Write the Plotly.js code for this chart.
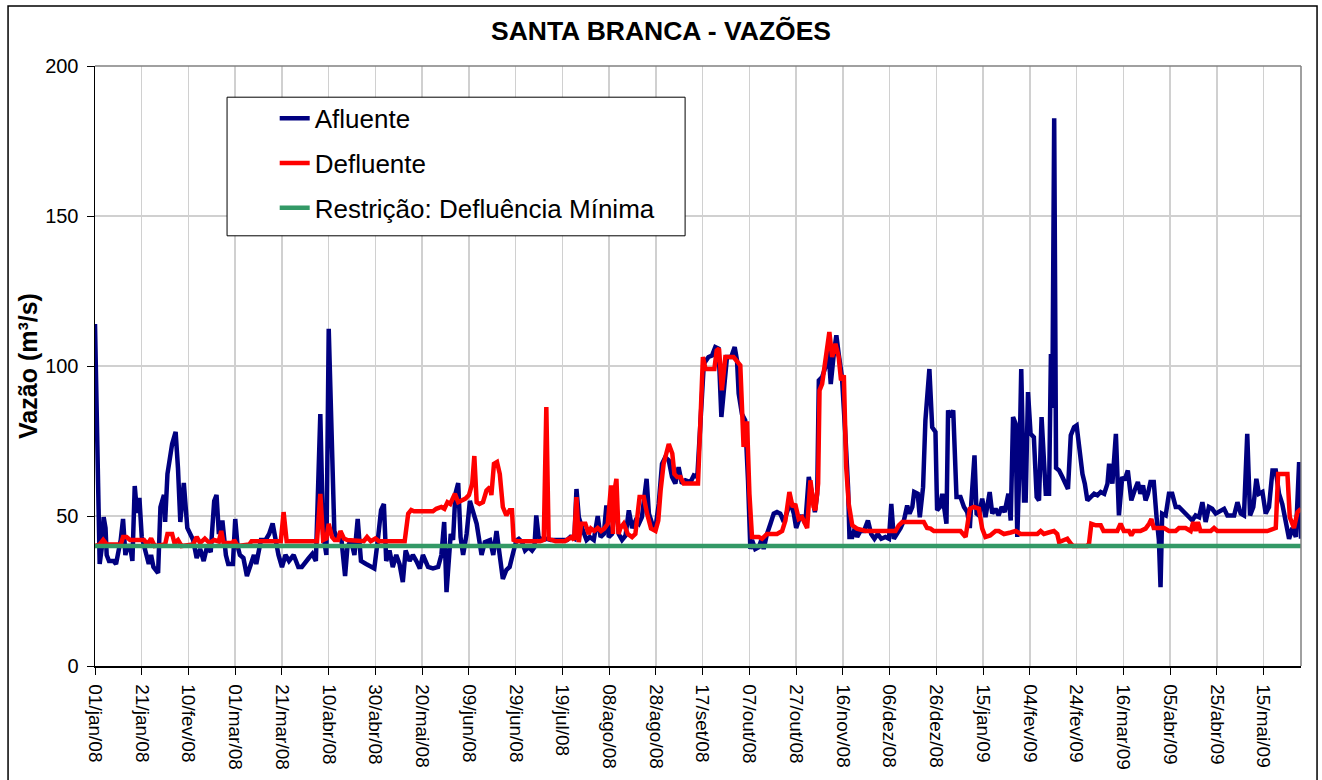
<!DOCTYPE html>
<html>
<head>
<meta charset="utf-8">
<script src="https://cdn.plot.ly/plotly-3.0.1.min.js"></script>
<style>html,body{margin:0;padding:0;background:#fff;}#chart{width:1322px;height:780px;}</style>
</head>
<body>
<div id="chart"></div>
<script>
// Day index (0 = 01/jan/08) and flow (m3/s)
const afluente = [
[0,114],[2,34],[3,40],[3.7,49.6],[4.5,46],[5,37],[6,35],[8,35],[9,34],[11,42],[12,49],[13,37],[14,40],[15,40],[16,35],[17,60],[18,51],[19,56],[20,43],[21.5,38.5],[23,34],[24,37],[25,33],[27,31],[28,53],[29.5,57],[30,48],[31,64],[33,74],[34.5,78],[35.5,66],[36.5,48],[38,61],[39.5,46],[41,44],[42,42],[43.5,36],[45,39],[46.5,35],[48,40],[49.5,38],[51,55],[52,57],[53,44],[54.5,48.5],[56,37],[57,34],[59,34],[60,49],[61,40],[62,37],[63.5,36],[65,30],[66.5,33],[68,37],[69,34],[71,42],[73,42],[74.5,44],[76,47.5],[77,43],[78.5,37],[80,33],[81.5,37],[83,35],[85,37],[87,33],
[88.5,33],[91.5,36],[93,37.4],[94.5,35],[96.4,84],[97.6,44],[99,37],[100,112.4],[101.4,68.5],[102.4,45],[103.8,42],[105.2,44],[107,30],[108,39.6],[109.5,42],[111,37],[112.4,49],[113.8,35],[116,34],[118,33],[119.5,32.5],[121,42],[122.4,52],[123.6,54],[124.6,35],[126,38.5],[127.4,33],[128.9,37],[130.3,34],[131.7,28],[132.9,38.5],[134.6,35],[136,37],[137.5,35],[139,32.5],[140.3,37],[142.5,33],[144.6,32.5],[146.8,33],[148.2,37],[149.4,48],[150.4,24.6],[151.5,35],[152.2,44],[153.2,42],[154.2,57.4],[155.4,61],[156.4,43],[157.5,37],[159,44],[160.4,55],[161.8,51.3],[163.3,47.4],[165.4,37],[166.8,41.3],[169,42],[170.4,37],[171.8,45],[173.3,36],[174.5,29],[176,32],
[177.4,33],[178.8,37.4],[180.3,41.9],[181.3,42.4],[182.7,41.3],[184,38.5],[185.5,39.6],[187,38.5],[188,39.6],[188.8,50.2],[189.8,43],[191.2,42],[193.4,42.4],[195,42],[202,42],[203.4,43],[205.1,42.4],[206,59],[207,49.6],[208.4,46],[210.3,42],[211.7,43],[213.4,42],[215.1,50],[216.3,43],[217.7,44],[218.8,53.5],[219.8,43],[221.2,44],[222.7,57.4],[224.1,44],[225.5,42],[227,43.5],[228.4,51.9],[229.8,46],[231.3,48.5],[232.7,47.4],[234,49.6],[236,62.4],[237,50.8],[238.4,47.4],[239.8,46],[241.2,54],[242.6,67.4],[244,69.6],[245.5,68.5],[246.9,63],[248.3,60.8],[249.7,66.3],[251.1,60.8],[252.6,61.9],[254.8,61.3],[256.2,63.5],[257.7,63],[259.1,81.9],[260.5,100.8],[262.5,103],
[264,103.5],[265.4,106.3],[266.8,105.8],[268,83],[269,90.8],[270.4,103],[272.2,103],[273.7,106.3],[274.7,101.8],[275.4,90.8],[276.8,84],[278.2,81.9],[279.4,61.9],[280.4,39],[281.1,42],[282.5,39],[284,39.6],[285.1,42],[286.1,39],[287.5,44],[289,47.4],[290.4,50.8],[291.8,51.3],[293.2,50.8],[294.7,48],[296.1,50.8],[297.5,54.6],[299,50.8],[300,46],[301.1,48.5],[302.5,50.2],[303.9,47.4],[305.4,63],[306.8,57.4],[308,51.3],[309,57.4],[309.7,95.2],[311.1,96.3],[312.5,99.6],[313.7,106.3],[314.8,94],[316.1,104],[317.2,110.2],[318.2,104],[319.6,96.3],[321.1,76.3],[322.2,59.6],[322.8,43],[324,43],[325.1,46],[326.1,43],[327.5,45],[329,45],[330.7,48.5],[332.1,44],[333.5,42.4],[334.9,44],[336.4,42.4],[338.2,43],[339.7,42.4],[340.7,54],[341.8,42.4],[343.2,44],[344.7,46],[346.1,48.5],[347.5,53.5],[348.5,50.8],[349.7,53],[350.5,58],
[352,57.4],[352.9,49.6],[354.3,59.6],[355.3,81.9],[356,89.6],[357,99],[358.2,79.6],[359.6,78],[360.3,51.9],[361.5,53],[362.5,57.4],[363.5,51.9],[364.3,47.4],[365,85.2],[366,83],[367.2,85.2],[368.6,56.3],[370.3,56.3],[371.8,53],[373.2,51.3],[374.3,46],[375,55.2],[376.3,70.2],[377.2,50.8],[378.2,50.2],[379.6,55.8],[381,49.6],[382.8,58],[383.9,50.8],[385.3,52.4],[386.6,50.2],[387.9,53],[389.2,51.3],[390.8,57.4],[391.8,48.5],[392.8,83],[393.9,80.8],[394.6,43],[395.4,63],[396.3,99],[397.5,55.2],[398.2,55.2],[399.2,91.3],[400.3,77.4],[401.7,76.3],[402.9,56.3],[403.9,55.2],[405,83],[406,68.5],[406.8,57.4],[408.2,57.4],[409,104],[409.6,86],[410.4,182.6],[411.2,66],[412.5,65.2],[413.9,63],[415.3,60.8],[416.3,59],[417.5,76.9],[418.9,79.6],[420,80.2],[421,73],[422.5,64],[423.5,60.8],[424.6,55.2],[426,56.3],[427.5,57.4],[428.9,56.9],[430.3,58],[431.8,57.4],[433.2,60.8],[433.9,67.4],[435.3,60.8],[436.8,77.4],
[438.1,50.2],[439.5,63],[440.5,61.9],[441.9,65.2],[443.4,55.2],[444.8,58.5],[446.2,61.3],[447.3,57.4],[448.4,60.2],[449.5,55.2],[450.5,57.4],[451.6,61.3],[453,61.3],[454.2,49.6],[455.2,41.9],[455.9,26.3],[456.6,50.8],[458.1,50.2],[459.5,57.4],[460.9,57.4],[462.4,53],[463.8,53],[465.2,51.9],[466.6,51.3],[468.1,49.6],[469.5,48.5],[470.9,50.2],[472.4,49.6],[473.8,54.6],[475.2,48],[476.6,53],[478,52.4],[479.5,50.8],[480.9,51.3],[483.1,52.4],[484.5,50.2],[487.4,50.2],[488.8,54.6],[490.2,50.8],[491.6,50.2],[493,77.4],[494.2,50.2],[495.6,53],[496.9,62.4],[498,57.4],[499.5,58],[500.9,50.8],[502.3,53],[503.8,65.2],[505.2,65.2],[506.6,57.4],[508,54],[509.5,48.5],[510.9,42.4],[512.3,46],[513.8,43],[515.2,68],[516,42.4]
];

const defluente = [
[0,40],[2,40.5],[3.5,42],[5,40.5],[11,40.5],[12,43],[13.5,43],[15,42],[21,42],[22.5,40.5],[24,42.5],[25.5,40],[30,40.5],[31,44],[33,44],[34,41],[35.5,42],[37,40],[42,40.5],[43.5,43],[45,41],[47,42.5],[49,41],[51,42],[53,41.5],[54,45],[55,41],[59,41],[59.5,42],[61,40],[66,40.5],[67,41.6],[79.5,41.6],[80.7,51.3],[82,41.6],
[95,41.6],[96.4,57.4],[97.6,42],[99,42.5],[100,47.4],[101.4,43],[102.5,42],[104,42],[105,45],[106.5,42.5],[108,42],[115,41.6],[116.4,43],[118,41.6],[120,42.5],[121.5,41.6],[132.5,41.6],[134,50.8],[135.3,52],[136.5,51.6],[144.6,51.6],[146,52.4],[148.2,53],[149.5,52.4],[150.8,54.6],[152,54],[154,57.4],[155.4,54.6],[156.6,55],[158.5,55.8],[160,57],[161.4,60.8],[162.3,70],[163.3,54.6],[164.5,54],[166,54.6],[167.5,58.5],[169,59.6],[169.6,57],[170.7,67.4],[172,68],[173.2,64],[174.5,53],[176,50.2],
[177.4,51.9],[178.4,51.9],[179.1,42],[180.5,41.6],[190.5,41.6],[192,42],[193.1,86.3],[194.1,42.4],[195.5,42],[197,41.6],[201,41.6],[202.7,42.4],[204,43],[205,42],[206,56.3],[207,41.3],[208,47.4],[209.8,47.4],[211.2,44],[212.2,45.8],[213.6,45],[215.1,46],[216.5,45],[217.9,45.8],[219.4,47.4],[220.8,60.2],[221.6,44],[222.4,59],[223.1,62.4],[224,44],[224.8,46],[226.2,47.4],[228,44],[229.8,43],[231.2,44],[233,56.3],[234.8,56.3],[236.2,50.8],[237.9,45.8],[239.8,45],[241,48.5],[242,58.5],[243.3,67.4],[245.5,74],[247,70.8],[247.9,64],[249.1,63],[250.5,63],[251.9,60.8],[258,60.8],[259,81.9],[260.1,103],[261.2,99],
[265,99],[266,105.2],[267,105.8],[268.2,91.9],[269.7,103],[273.2,103],[274.7,101.8],[276.1,100.2],[277.5,73],[278.2,80.8],[279,80.8],[280,57.4],[281.1,43],[284,43],[285.4,42.4],[287.5,44],[291.8,44],[294,45],[295.4,48.5],[297.1,58],[298.5,53],[299.6,54],[301.1,49],[302.5,49.6],[304.7,46],[306.1,61.9],[307.5,53],[308.2,51.9],[309.4,60.8],[310,91.9],[311.1,94],[312.5,100.8],[314.2,111.3],[315.4,103],[316.8,107.4],[318.2,103],[319.2,95.2],[320.4,96.9],[321.4,66.3],[322.5,54],[324,46.9],[326,45.8],[329.7,45],[342.5,45],[343.9,46.9],[345.4,48],
[354.6,48],[356,46],[357.5,45.8],[358.9,45],[370.3,45],[372.5,43],[374.3,52.4],[376,53],[378.2,52.4],[379.6,45.8],[381,43],[383,43.5],[385.3,45],[386.7,45],[388.9,44],[391.8,44.5],[393.9,45],[396,44],[403.2,44],[404.6,45],[406,44],[408,44.5],[410.3,45],[411.7,44],[412.5,41.3],[414.6,42],[416,42.4],[417.5,40.8],[418.5,40],[424.5,40],[425.3,40.8],[426.3,47.4],[428.2,46.9],[430.3,46.9],[431.5,45],[437.4,45],
[438.8,47.4],[440.2,45],[442.4,45],[443.4,43.5],[444.5,45],[447.3,45],[449.5,45.8],[451,47.4],[452,49],[453,46],[457.4,46],[459.5,45],[462.4,45],[463.8,46],[466.6,46],[468.8,45],[469.9,48],[470.9,45],[471.9,48],[473,45],[477.4,45],[478.8,46],[480.2,45],[501.6,45],[503.8,45.8],[505.2,46],[506.2,64],[510.2,64],[511.2,49.6],[513,46],[514.5,51.3],[516,52.4]
];

const restricaoDia = [0, 516];
const restricaoVazao = [40, 40];

const tickDias = [0,20,40,60,80,100,120,140,160,180,200,220,240,260,280,300,320,340,360,380,400,420,440,460,480,500];
const tickRotulos = ["01/jan/08","21/jan/08","10/fev/08","01/mar/08","21/mar/08","10/abr/08","30/abr/08","20/mai/08","09/jun/08","29/jun/08","19/jul/08","08/ago/08","28/ago/08","17/set/08","07/out/08","27/out/08","16/nov/08","06/dez/08","26/dez/08","15/jan/09","04/fev/09","24/fev/09","16/mar/09","05/abr/09","25/abr/09","15/mai/09"];

const FONT = "Liberation Sans, Arial, sans-serif";

const traces = [
  {x: afluente.map(p=>p[0]), y: afluente.map(p=>p[1]), name: "Afluente", type: "scatter", mode: "lines",
   line: {color: "#000080", width: 4.5}, legendgroup: "a"},
  {x: defluente.map(p=>p[0]), y: defluente.map(p=>p[1]), name: "Defluente", type: "scatter", mode: "lines",
   line: {color: "#FF0000", width: 4.5}, legendgroup: "b"},
  {x: restricaoDia, y: restricaoVazao, name: "Restrição: Defluência Mínima", type: "scatter", mode: "lines",
   line: {color: "#339966", width: 4.5}, legendgroup: "c"}
];

const layout = {
  width: 1322, height: 780,
  margin: {l: 95, r: 21, t: 66, b: 114, autoexpand: false},
  paper_bgcolor: "#ffffff", plot_bgcolor: "#ffffff",
  font: {family: FONT, color: "#000"},
  showlegend: true,
  title: {text: "SANTA BRANCA - VAZÕES", font: {family: FONT, size: 26.5, weight: "bold", color: "#000"},
          x: 0.5, xref: "container", xanchor: "center", y: 0.96, yref: "container", yanchor: "middle"},
  xaxis: {
    range: [0, 516], autorange: false, tickmode: "array", tickvals: tickDias, ticktext: tickRotulos,
    tickangle: 90, tickfont: {family: FONT, size: 19, color: "#000"},
    ticks: "outside", ticklen: 7, tickcolor: "#000", tickwidth: 1,
    showgrid: true, gridcolor: "#d0d0d0", gridwidth: 1.5,
    showline: true, linecolor: "#000", linewidth: 1.5, zeroline: false, ticklabelstandoff: 6
  },
  yaxis: {
    range: [0, 200], autorange: false, dtick: 50, tick0: 0,
    tickfont: {family: FONT, size: 20, color: "#000"},
    ticks: "outside", ticklen: 7, tickcolor: "#000", tickwidth: 1,
    showgrid: true, gridcolor: "#d0d0d0", gridwidth: 1.5,
    showline: true, linecolor: "#000", linewidth: 1.5, zeroline: false, ticklabelstandoff: 4,
    title: {text: "Vazão (m³/s)", font: {family: FONT, size: 25, weight: "bold", color: "#000"}, standoff: 0}
  },
  legend: {
    x: 0.149, y: 0.952, xanchor: "left", yanchor: "top",
    bgcolor: "rgba(0,0,0,0)", borderwidth: 0,
    font: {family: FONT, size: 26, color: "#000"},
    tracegroupgap: 8, traceorder: "grouped"
  },
  shapes: [
    {type: "rect", xref: "paper", yref: "paper", x0: -0.0721, x1: 1.0133, y0: -0.3, y1: 1.1,
     line: {color: "#000", width: 1.5}, fillcolor: "rgba(0,0,0,0)", layer: "above"},
    {type: "line", xref: "paper", yref: "paper", x0: 0, x1: 1, y0: 1, y1: 1, line: {color: "#808080", width: 1.5}},
    {type: "line", xref: "paper", yref: "paper", x0: 1, x1: 1, y0: 0, y1: 1, line: {color: "#808080", width: 1.5}},
    {type: "rect", xref: "paper", yref: "paper", x0: 0.1095, x1: 0.4893, y0: 0.717, y1: 0.948,
     line: {color: "#000", width: 1}, fillcolor: "#ffffff", layer: "above"}
  ]
};

Plotly.newPlot("chart", traces, layout, {displayModeBar: false, staticPlot: true});
</script>
</body>
</html>
